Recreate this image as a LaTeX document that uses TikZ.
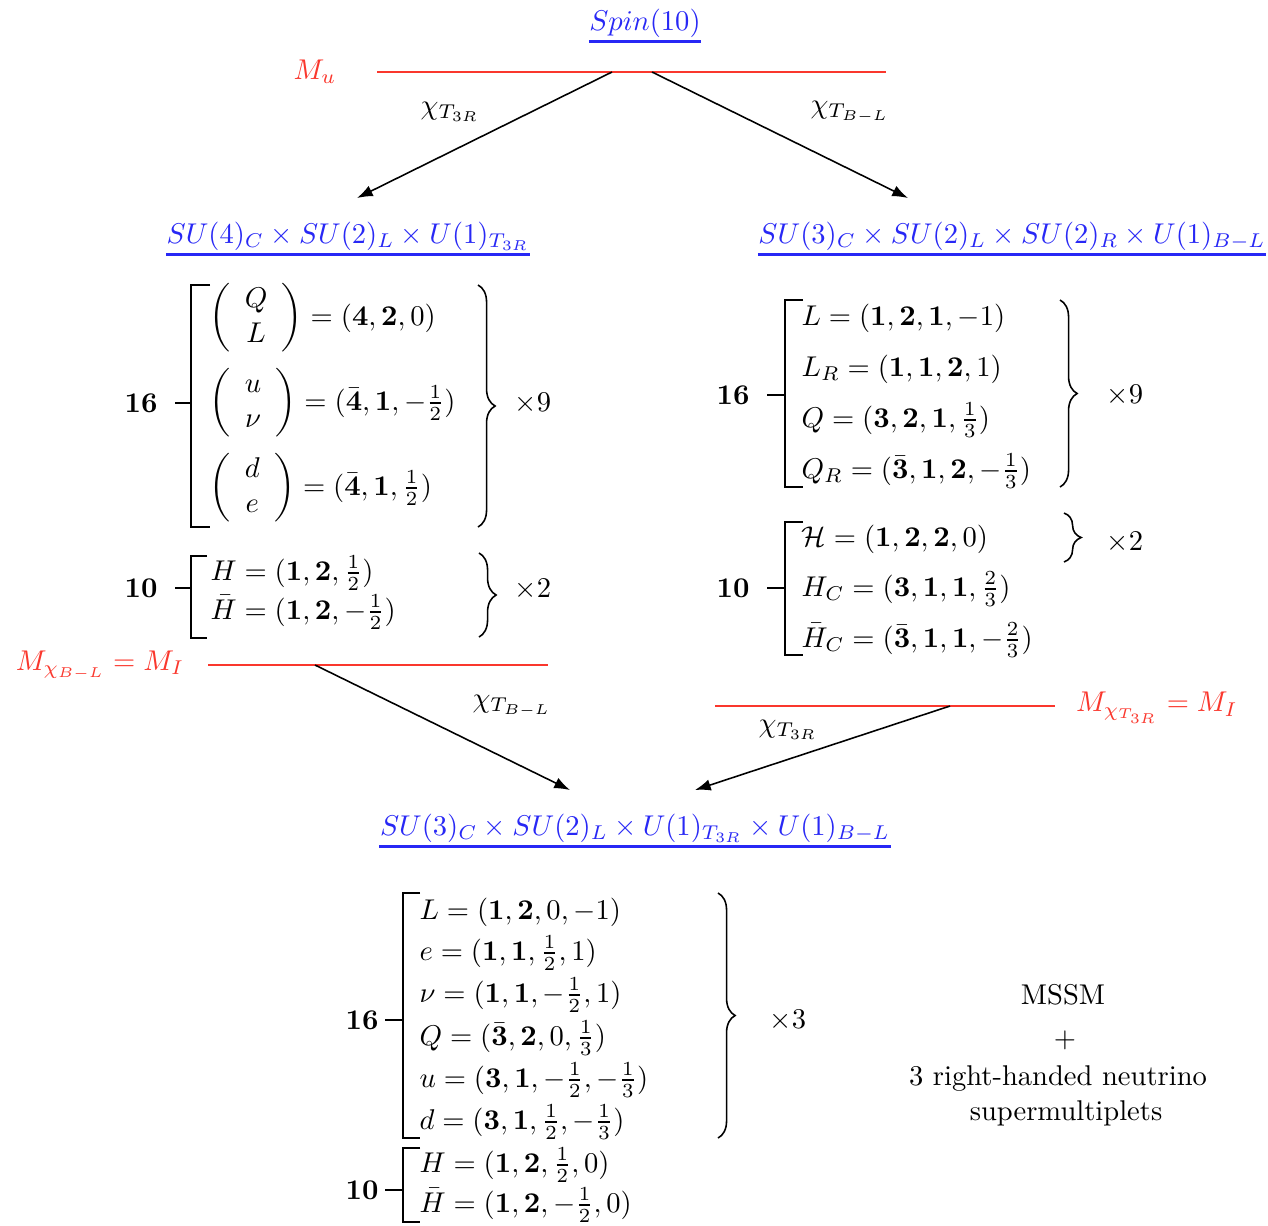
\documentclass[tikz,border=0pt]{standalone}
\usetikzlibrary{arrows.meta,decorations.pathreplacing}
\definecolor{grpblue}{RGB}{40,40,245}
\definecolor{scalered}{RGB}{250,55,45}
\begin{document}
\begin{tikzpicture}[x=0.35pt,y=-0.35pt,
  grp/.style={text=grpblue,inner sep=0pt,anchor=base},
  uline/.style={draw=grpblue,line width=0.75pt},
  scale line/.style={draw=scalered,line width=0.7pt},
  scalelab/.style={text=scalered,inner sep=0pt},
  row/.style={anchor=west,inner sep=0pt},
  lab/.style={inner sep=0pt},
  brk/.style={draw=black,line width=0.55pt},
  brc/.style={draw=black,line width=0.55pt,decorate,decoration={brace,amplitude=6pt,aspect=0.5}},
  flow/.style={draw=black,line width=0.55pt,-{Latex[length=5.5pt,width=4pt]}},
  brlab/.style={inner sep=0pt}]
\useasboundingbox (0,0) rectangle (1268,1225);

% ---- top
\node[grp] (spin) at (645,30) {$Spin(10)$};
\draw[uline] ([yshift=-4pt]spin.base west) -- ([yshift=-4pt]spin.base east);
\node[scalelab] (mu) at (315,72) {$M_u$};
\coordinate (muL) at (377,72);
\coordinate (muR) at (886,72);
\draw[scale line] (muL) -- (muR);
\coordinate (s1) at (612,72);
\coordinate (s2) at (652,72);
\coordinate (g1top) at (357,198);
\coordinate (g2top) at (908,198);
\draw[flow] (s1) -- (g1top);
\draw[flow] (s2) -- (g2top);
\node[lab] (chi1) at (450,112) {$\chi_{T_{3R}}$};
\node[lab] (chi2) at (850,112) {$\chi_{T_{B-L}}$};

% ---- left group
\node[grp] (g1) at (348,243) {$SU(4)_C\times SU(2)_L\times U(1)_{T_{3R}}$};
\draw[uline] ([yshift=-4pt]g1.base west) -- ([yshift=-4pt]g1.base east);
% left 16
\node[brlab] (l16) at (141,403) {$\mathbf{16}$};
\draw[brk] (175,403) -- (191,403);
\draw[brk] (210,285) -- (191,285) -- (191,527) -- (210,527);
\node[row] (l16a) at (209,318) {$\left(\begin{array}{c} Q\\ L\end{array}\right) = (\mathbf{4},\mathbf{2},0)$};
\node[row] (l16b) at (209,403) {$\left(\begin{array}{c} u\\ \nu\end{array}\right) = (\bar{\mathbf{4}},\mathbf{1},-\frac{1}{2})$};
\node[row] (l16c) at (209,488) {$\left(\begin{array}{c} d\\ e\end{array}\right) = (\bar{\mathbf{4}},\mathbf{1},\frac{1}{2})$};
\draw[brc] (478,285) -- (478,527);
\node[brlab] (l16x) at (533,403) {$\times 9$};
% left 10
\node[brlab] (l10) at (141,588) {$\mathbf{10}$};
\draw[brk] (175,588) -- (191,588);
\draw[brk] (207,556) -- (191,556) -- (191,638) -- (207,638);
\node[row] (l10a) at (210,573) {$H = (\mathbf{1},\mathbf{2},\frac{1}{2})$};
\node[row] (l10b) at (210,612) {$\bar{H} = (\mathbf{1},\mathbf{2},-\frac{1}{2})$};
\draw[brc] (479,553) -- (479,637);
\node[brlab] (l10x) at (533,589) {$\times 2$};
% left scale
\node[scalelab] (mbl) at (100,665) {$M_{\chi_{B-L}} = M_I$};
\coordinate (mblL) at (208,665);
\coordinate (mblR) at (548,665);
\draw[scale line] (mblL) -- (mblR);
\coordinate (s3) at (315,665);
\coordinate (g3a) at (570,790);
\draw[flow] (s3) -- (g3a);
\node[lab] (chi3) at (512,706) {$\chi_{T_{B-L}}$};

% ---- right group
\node[grp] (g2) at (1012,243) {$SU(3)_C\times SU(2)_L\times SU(2)_R\times U(1)_{B-L}$};
\draw[uline] ([yshift=-4pt]g2.base west) -- ([yshift=-4pt]g2.base east);
% right 16
\node[brlab] (r16) at (733,395) {$\mathbf{16}$};
\draw[brk] (767,395) -- (785,395);
\draw[brk] (803,300) -- (785,300) -- (785,487) -- (803,487);
\node[row] (r16a) at (801,318) {$L = (\mathbf{1},\mathbf{2},\mathbf{1},-1)$};
\node[row] (r16b) at (801,369) {$L_R = (\mathbf{1},\mathbf{1},\mathbf{2},1)$};
\node[row] (r16c) at (801,420) {$Q = (\mathbf{3},\mathbf{2},\mathbf{1},\frac{1}{3})$};
\node[row] (r16d) at (801,471) {$Q_R = (\bar{\mathbf{3}},\mathbf{1},\mathbf{2},-\frac{1}{3})$};
\draw[brc] (1060,300) -- (1060,487);
\node[brlab] (r16x) at (1125,395) {$\times 9$};
% right 10
\node[brlab] (r10) at (733,588) {$\mathbf{10}$};
\draw[brk] (767,588) -- (785,588);
\draw[brk] (803,522) -- (785,522) -- (785,655) -- (803,655);
\node[row] (r10a) at (801,539) {$\mathcal{H} = (\mathbf{1},\mathbf{2},\mathbf{2},0)$};
\node[row] (r10b) at (801,589) {$H_C = (\mathbf{3},\mathbf{1},\mathbf{1},\frac{2}{3})$};
\node[row] (r10c) at (801,640) {$\bar{H}_C = (\bar{\mathbf{3}},\mathbf{1},\mathbf{1},-\frac{2}{3})$};
\draw[brc] (1064,513) -- (1064,562);
\node[brlab] (r10x) at (1125,542) {$\times 2$};
% right scale
\node[scalelab] (mt3) at (1157,708) {$M_{\chi_{T_{3R}}} = M_I$};
\coordinate (mt3L) at (715,706);
\coordinate (mt3R) at (1055,706);
\draw[scale line] (mt3L) -- (mt3R);
\coordinate (s4) at (950,706);
\coordinate (g3b) at (695,790);
\draw[flow] (s4) -- (g3b);
\node[lab] (chi4) at (788,730) {$\chi_{T_{3R}}$};

% ---- bottom group
\node[grp] (g3) at (635,835) {$SU(3)_C\times SU(2)_L\times U(1)_{T_{3R}}\times U(1)_{B-L}$};
\draw[uline] ([yshift=-4pt]g3.base west) -- ([yshift=-4pt]g3.base east);
% bottom 16
\node[brlab] (b16) at (362,1020) {$\mathbf{16}$};
\draw[brk] (385,1020) -- (403,1020);
\draw[brk] (420,893) -- (403,893) -- (403,1138) -- (420,1138);
\node[row] (b16a) at (419,912) {$L = (\mathbf{1},\mathbf{2},0,-1)$};
\node[row] (b16b) at (419,953) {$e = (\mathbf{1},\mathbf{1},\frac{1}{2},1)$};
\node[row] (b16c) at (419,995) {$\nu = (\mathbf{1},\mathbf{1},-\frac{1}{2},1)$};
\node[row] (b16d) at (419,1038) {$Q = (\bar{\mathbf{3}},\mathbf{2},0,\frac{1}{3})$};
\node[row] (b16e) at (419,1080) {$u = (\mathbf{3},\mathbf{1},-\frac{1}{2},-\frac{1}{3})$};
\node[row] (b16f) at (419,1122) {$d = (\mathbf{3},\mathbf{1},\frac{1}{2},-\frac{1}{3})$};
\draw[brc] (718,893) -- (718,1138);
\node[brlab] (b16x) at (788,1020) {$\times 3$};
% bottom 10
\node[brlab] (b10) at (362,1190) {$\mathbf{10}$};
\draw[brk] (385,1190) -- (403,1190);
\draw[brk] (420,1148) -- (403,1148) -- (403,1222) -- (420,1222);
\node[row] (b10a) at (419,1165) {$H = (\mathbf{1},\mathbf{2},\frac{1}{2},0)$};
\node[row] (b10b) at (419,1205) {$\bar{H} = (\mathbf{1},\mathbf{2},-\frac{1}{2},0)$};
% MSSM
\node[lab] (mssm) at (1063,995) {MSSM};
\node[lab] (plus) at (1065,1040) {$+$};
\node[lab] (nu3) at (1058,1079) {3 right-handed neutrino};
\node[lab] (smp) at (1066,1113) {supermultiplets};
\end{tikzpicture}
\end{document}
